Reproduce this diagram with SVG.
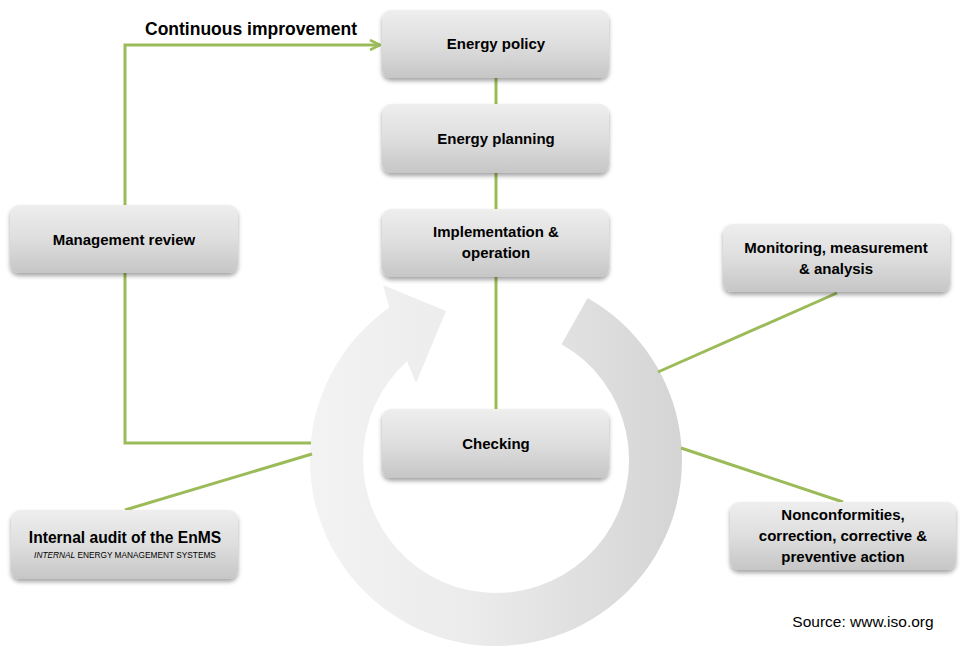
<svg xmlns="http://www.w3.org/2000/svg" width="970" height="646" viewBox="0 0 970 646">
<defs>
<linearGradient id="boxg" x1="0" y1="0" x2="0" y2="1">
<stop offset="0" stop-color="#eeeeee"/>
<stop offset="0.5" stop-color="#dedede"/>
<stop offset="1" stop-color="#c6c6c6"/>
</linearGradient>
<linearGradient id="ringg" gradientUnits="userSpaceOnUse" x1="310" y1="0" x2="682" y2="0">
<stop offset="0" stop-color="#f3f3f3"/>
<stop offset="0.45" stop-color="#ebebeb"/>
<stop offset="1" stop-color="#d4d4d4"/>
</linearGradient>
<filter id="sh" x="-10%" y="-20%" width="120%" height="150%">
<feDropShadow dx="0" dy="3" stdDeviation="2.2" flood-color="#000" flood-opacity="0.35"/>
</filter>
<marker id="chev" viewBox="0 0 12 12" refX="11" refY="6" markerWidth="12" markerHeight="12" markerUnits="userSpaceOnUse" orient="auto">
<path d="M1,1 L11,6 L1,11" fill="none" stroke="#9bbb59" stroke-width="2.6"/>
</marker>
<style>
.box{fill:url(#boxg);filter:url(#sh);}
.lbl{font-family:"Liberation Sans",Arial,sans-serif;font-weight:bold;font-size:15px;fill:#000;text-anchor:middle;}
.con{fill:none;stroke:#9bbb59;stroke-width:3;}
</style>
</defs>

<g id="ring">
<path d="M587.6,298.1 A186,186 0 1 1 389.3,307.6 L383,285 L446,311 L416,383 L407,361.2 A133,133 0 1 0 561.5,344.2 Z" fill="url(#ringg)"/>
</g>

<g id="connectors">
<line class="con" x1="496" y1="78" x2="496" y2="104"/>
<line class="con" x1="496" y1="173" x2="496" y2="209"/>
<line class="con" x1="496" y1="277" x2="496" y2="409"/>
<polyline class="con" points="125,205 125,45 380,45" marker-end="url(#chev)"/>
<polyline class="con" points="125,273 125,443 311,443"/>
<line class="con" x1="125" y1="510" x2="312" y2="454"/>
<line class="con" x1="837" y1="293" x2="658" y2="372"/>
<line class="con" x1="681" y1="448" x2="843" y2="502"/>
</g>

<g id="continuous-improvement">
<text class="lbl" x="251" y="35" style="font-size:17.5px">Continuous improvement</text>
</g>

<g id="energy-policy">
<rect class="box" x="382" y="10" width="227" height="68" rx="9"/>
<text class="lbl" x="496" y="49">Energy policy</text>
</g>

<g id="energy-planning">
<rect class="box" x="382" y="104" width="227" height="69" rx="9"/>
<text class="lbl" x="496" y="144">Energy planning</text>
</g>

<g id="implementation">
<rect class="box" x="382" y="209" width="227" height="68" rx="9"/>
<text class="lbl" x="496" y="237">Implementation &amp;</text>
<text class="lbl" x="496" y="258">operation</text>
</g>

<g id="checking">
<rect class="box" x="382" y="409" width="227" height="69" rx="9"/>
<text class="lbl" x="496" y="449">Checking</text>
</g>

<g id="management-review">
<rect class="box" x="10" y="205" width="228" height="68" rx="9"/>
<text class="lbl" x="124" y="245">Management review</text>
</g>

<g id="monitoring">
<rect class="box" x="723" y="224" width="227" height="68" rx="9"/>
<text class="lbl" x="836" y="253">Monitoring, measurement</text>
<text class="lbl" x="836" y="274">&amp; analysis</text>
</g>

<g id="nonconformities">
<rect class="box" x="730" y="502" width="226" height="68" rx="9"/>
<text class="lbl" x="843" y="520">Nonconformities,</text>
<text class="lbl" x="843" y="541">correction, corrective &amp;</text>
<text class="lbl" x="843" y="562">preventive action</text>
</g>

<g id="internal-audit">
<rect class="box" x="11" y="510" width="227" height="69" rx="9"/>
<text class="lbl" x="125" y="543" style="font-size:15.6px">Internal audit of the EnMS</text>
<text x="125" y="558" style="font-family:'Liberation Sans',Arial,sans-serif;font-size:8.3px;fill:#000;text-anchor:middle"><tspan font-style="italic">INTERNAL</tspan> ENERGY MANAGEMENT SYSTEMS</text>
</g>

<g id="source">
<text x="863" y="627" style="font-family:'Liberation Sans',Arial,sans-serif;font-size:15.5px;fill:#000;text-anchor:middle">Source: www.iso.org</text>
</g>
</svg>
